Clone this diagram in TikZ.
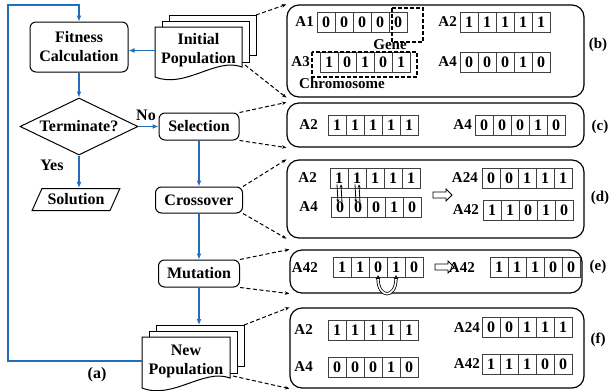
\documentclass[tikz,border=0pt]{standalone}
\usepackage{fontspec}
\setmainfont{Liberation Serif}
\usepackage{tikz}
\usetikzlibrary{arrows.meta,shapes.geometric,shapes.arrows}
\definecolor{myblue}{RGB}{33,110,189}

% Chromosom: [Abstand] Name, Beschriftung, linker Rand, Mitte y, Gene
\newcommand{\chromo}[6][3]{%
  \foreach \bit [count=\i] in {#6}
    \node[cell] (#2-\i) at ({#4+(\i-0.5)*18},#5) {\bit};
  \node[lbl, anchor=east] (#2-l) at (#4-#1,#5) {#3};
}
% Dokumentenstapel: Name, x, y, Breite, Hoehe, Text
\newcommand{\docstack}[6]{%
  \draw[line width=1pt, fill=white] (#2+14,#3-12) rectangle (#2+#4+14,#3+#5-22);
  \draw[line width=1pt, fill=white] (#2+7,#3-6) rectangle (#2+#4+7,#3+#5-15);
  \draw[line width=1pt, fill=white] (#2,#3) -- (#2+#4,#3) -- (#2+#4,#3+#5-10)
    .. controls (#2+0.7*#4,#3+#5-20) and (#2+0.35*#4,#3+#5+12) .. (#2,#3+#5) -- cycle;
  \node[align=center, minimum width=#4pt, inner sep=0pt] (#1) at (#2+0.5*#4,#3+0.47*#5) {#6};
  \coordinate (#1-top) at (#2+0.5*#4+14,#3-12);
  \coordinate (#1-ne) at (#2+#4+14,#3-12);
  \coordinate (#1-se) at (#2+#4+3,#3+#5-12);
}

\begin{document}
\begin{tikzpicture}[x=1pt, y=-1pt, >=latex, font=\fontsize{16}{19}\selectfont\bfseries,
    box/.style={draw, rounded corners=6pt, line width=1pt, align=center, inner sep=0pt},
    flow/.style={draw=myblue, line width=1.7pt, -{Latex[length=6pt,width=5pt]}},
    link/.style={draw, dash pattern=on 4pt off 2.5pt, line width=1pt, -{Stealth[length=4.5pt,width=3.5pt]}},
    panel/.style={draw, rounded corners=12pt, line width=1.2pt, inner sep=0pt},
    cell/.style={draw=black!75, line width=0.7pt, minimum width=18pt, minimum height=20pt, inner sep=0pt, font=\fontsize{16}{16}\selectfont\bfseries},
    lbl/.style={font=\fontsize{15}{15}\selectfont\bfseries, inner sep=0pt},
    dashbox/.style={dash pattern=on 4pt off 2pt, line width=1.3pt},
    swp/.style={line width=0.8pt, -{Stealth[length=3.5pt,width=3pt]}},
    hollow/.style={draw, single arrow, minimum height=19pt, minimum width=12pt, single arrow head extend=3pt, inner xsep=0pt, inner ysep=2.5pt, line width=0.9pt}]
  \useasboundingbox (0,0) rectangle (616,391);
  % Flussdiagramm
  \node[box, minimum width=98pt, minimum height=50pt] (fit) at (79,47) {Fitness\\Calculation};
  \docstack{initpop}{155}{27}{87}{50}{Initial\\Population}
  \node[draw, diamond, aspect=2.07, minimum width=118pt, minimum height=57pt, inner sep=0pt, line width=1pt] (term) at (79,126.5) {Terminate?};
  \node[draw, trapezium, trapezium left angle=54, trapezium right angle=126, trapezium stretches=true,
        minimum width=88pt, minimum height=22pt, inner sep=0pt, line width=1pt] (sol) at (76,199.5) {Solution};
  \node[box, minimum width=80pt, minimum height=27pt] (sel) at (199,126.5) {Selection};
  \node[box, minimum width=87pt, minimum height=26pt] (cross) at (199,200) {Crossover};
  \node[box, minimum width=81pt, minimum height=27pt] (mut) at (199,273.5) {Mutation};
  \docstack{newpop}{142}{337}{88}{51}{New\\Population}
  \node (no) at (146,115) {No};
  \node (yes) at (52,165) {Yes};
  \node (a) at (97,375) {(a)};
  % Pfeile
  \draw[flow] (initpop.west) -- (initpop.west -| fit.east);
  \draw[flow] (fit) -- (term);
  \draw[flow] (term.east) -- (sel.west);
  \draw[flow] (term.south) -- (term.south |- sol.north);
  \draw[flow] (sel) -- (cross);
  \draw[flow] (cross) -- (mut);
  \draw[flow] (mut.south) -- (mut.south |- newpop-top);
  \coordinate (loop) at (8,5);
  \draw[flow] (newpop.west) -| (loop) -| (fit.north);
  % Rahmen rechts
  \node[panel, minimum width=297pt, minimum height=92pt] (pb) at (435.5,51) {};
  \node[panel, minimum width=297pt, minimum height=44pt] (pc) at (435.5,125) {};
  \node[panel, minimum width=297pt, minimum height=78pt] (pd) at (435.5,199) {};
  \node[panel, minimum width=292pt, minimum height=43pt] (pe) at (436,271.5) {};
  \node[panel, minimum width=294pt, minimum height=80pt] (pf) at (437,348) {};
  \node[lbl] (lb) at (598,45) {(b)};
  \node[lbl] (lc) at (600,127) {(c)};
  \node[lbl] (ld) at (600,198) {(d)};
  \node[lbl] (le) at (598,267) {(e)};
  \node[lbl] (lf) at (598,340) {(f)};
  \draw[link] (initpop-ne) -- (pb.north west);
  \draw[link] (initpop-se) -- (pb.south west);
  \draw[link] (sel.north east) -- (pc.north west);
  \draw[link] (sel.south east) -- (pc.south west);
  \draw[link] (cross.north east) -- (pd.north west);
  \draw[link] (cross.south east) -- (pd.south west);
  \draw[link] (mut.north east) -- (pe.north west);
  \draw[link] (mut.south east) -- (pe.south west);
  \draw[link] (newpop-ne) -- (pf.north west);
  \draw[link] (newpop-se) -- (pf.south west);
  % (b) Population
  \chromo{bA1}{A1}{317}{22}{0,0,0,0,0}
  \chromo{bA2}{A2}{460}{22}{1,1,1,1,1}
  \chromo[10]{bA3}{A3}{320}{62}{1,0,1,0,1}
  \chromo{bA4}{A4}{460}{62}{0,0,0,1,0}
  \draw[dashbox] (392,8) rectangle (423,42);
  \node[lbl] (gene) at (390,45) {Gene};
  \draw[dashbox] (312,52) rectangle (417,77);
  \node[lbl] (chrom) at (342,83) {Chromosome};
  % (c) Selektion
  \chromo[10]{cA2}{A2}{328}{125}{1,1,1,1,1}
  \chromo{cA4}{A4}{475}{125}{0,0,0,1,0}
  % (d) Kreuzung
  \chromo[13]{dA2}{A2}{330}{178}{1,1,1,1,1}
  \chromo[13]{dA4}{A4}{331}{207}{0,0,0,1,0}
  \chromo[4]{dA24}{A24}{482}{178}{0,0,1,1,1}
  \chromo[4]{dA42}{A42}{483}{210}{1,1,0,1,0}
  \foreach \c in {1,2} {
    \draw[swp] ([xshift=-2pt,yshift=4pt]dA2-\c.south) -- ([xshift=-2pt,yshift=-6pt]dA4-\c.north);
    \draw[swp] ([xshift=2pt,yshift=-6pt]dA4-\c.north) -- ([xshift=2pt,yshift=4pt]dA2-\c.south);
  }
  \node[hollow] (darr) at (441,195) {};
  % (e) Mutation
  \chromo[15]{eA}{A42}{333}{267.5}{1,1,0,1,0}
  \chromo[15]{eB}{A42}{490}{267.5}{1,1,1,0,0}
  \node[hollow] (earr) at (443,267) {};
  \draw[line width=0.8pt, double=white, double distance=1.6pt, {Latex[open,length=4pt,width=5pt]}-{Latex[open,length=4pt,width=5pt]}]
    ([yshift=3pt]eA-3.south) .. controls +(0,24) and +(0,24) .. ([yshift=3pt]eA-4.south);
  % (f) Neue Population
  \chromo[15]{fA2}{A2}{328}{330}{1,1,1,1,1}
  \chromo[15]{fA4}{A4}{328}{367}{0,0,0,1,0}
  \chromo[2]{fA24}{A24}{482}{327.5}{0,0,1,1,1}
  \chromo[2]{fA42}{A42}{482}{364}{1,1,1,0,0}
\end{tikzpicture}
\end{document}
